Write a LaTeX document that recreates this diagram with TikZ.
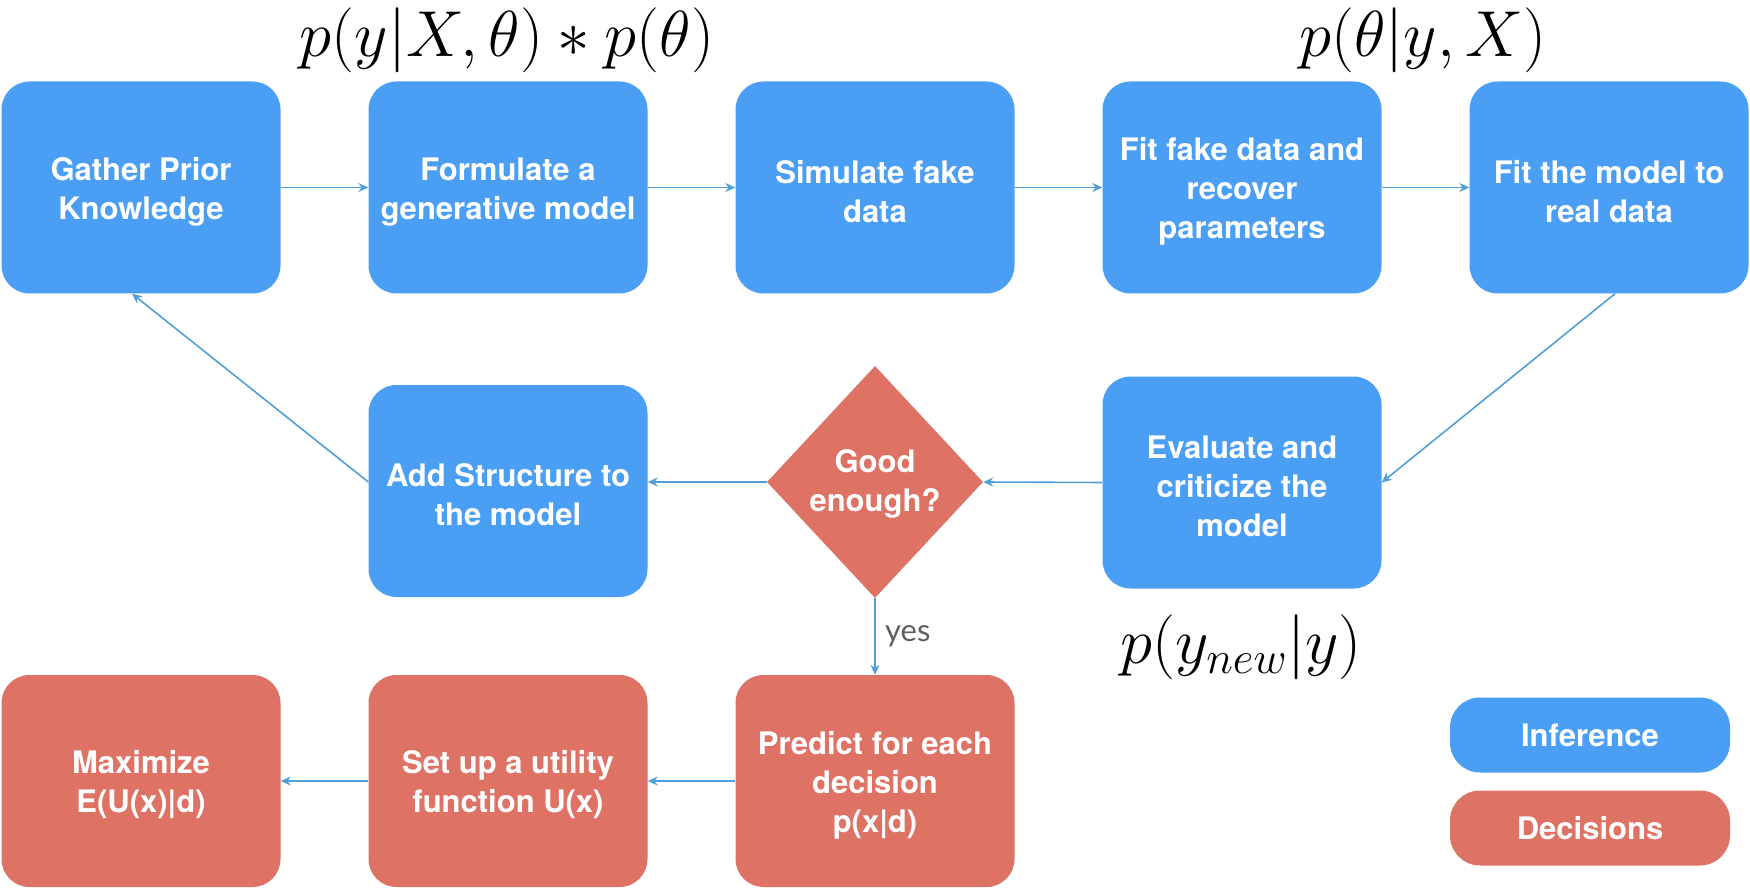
\RequirePackage{fix-cm}
\documentclass[tikz,border=0pt]{standalone}
\usepackage{fontspec}
\setsansfont{TeX Gyre Heros}
\newfontfamily\yesfont{Lato}
\usetikzlibrary{shapes.geometric,arrows.meta}
\definecolor{infblue}{RGB}{74,159,245}
\definecolor{decred}{RGB}{222,114,101}
\definecolor{linkblue}{RGB}{80,160,215}
\definecolor{labelgray}{RGB}{95,95,95}
% taller first line, so the label block sits a little lower in its box
\newcommand\firstline{\rule{0pt}{31pt}}

\begin{document}
\begin{tikzpicture}[x=1pt,y=-1pt,
  card/.style={rounded corners=28pt, minimum width=279pt, minimum height=212pt,
    inner sep=0pt, align=center, text=white,
    font=\sffamily\bfseries\fontsize{31}{39}\selectfont},
  inf/.style={card, fill=infblue},
  dec/.style={card, fill=decred},
  pill/.style={rounded corners=30pt, minimum width=280pt, minimum height=75pt,
    inner sep=0pt, text=white, font=\sffamily\bfseries\fontsize{31}{38}\selectfont},
  decide/.style={diamond, fill=decred, minimum width=216pt, minimum height=232pt,
    inner sep=0pt, align=center, text=white,
    font=\sffamily\bfseries\fontsize{31}{39}\selectfont},
  link/.style={draw=linkblue, line width=1.6pt, -{Stealth[length=10pt,width=9pt]}},
  formula/.style={inner sep=0pt, font=\fontsize{65}{70}\selectfont},
]
\useasboundingbox (0,0) rectangle (1750,890);

% top row: inference steps
\node[inf] (b1) at (141,187.5) {\firstline Gather Prior\\Knowledge};
\node[inf] (b2) at (508,187.5) {\firstline Formulate a\\generative model};
\node[inf] (b3) at (875,187.5) {\firstline Simulate fake\\data};
\node[inf] (b4) at (1242,187.5) {\firstline Fit fake data and\\recover\\parameters};
\node[inf] (b5) at (1609,187.5) {\firstline Fit the model to\\real data};

% middle row
\node[inf] (ev) at (1242,482.5) {\firstline Evaluate and\\criticize the\\model};
\node[decide] (dia) at (875,482) {\rule{0pt}{27pt}Good\\enough?};
\node[inf] (add) at (508,491) {\firstline Add Structure to\\the model};

% bottom row: decision steps
\node[dec] (pr) at (875,781) {\firstline Predict for each\\decision\\p(x|d)};
\node[dec] (su) at (508,781) {\firstline Set up a utility\\function U(x)};
\node[dec] (mx) at (141,781) {\firstline Maximize\\E(U(x)|d)};

% legend
\node[pill, fill=infblue] (lgi) at (1590,735) {Inference};
\node[pill, fill=decred] (lgd) at (1590,828) {Decisions};

% formulas
\node[formula] (fprior) at (507,40) {$p(y|X,\theta) * p(\theta)$};
\node[formula] (fpost) at (1423,40) {$p(\theta|y,X)$};
\node[formula] (fpred) at (1241,647) {$p(y_{new}|y)$};

% connectors
\draw[link] (b1.east) -- (b2.west);
\draw[link] (b2.east) -- (b3.west);
\draw[link] (b3.east) -- (b4.west);
\draw[link] (b4.east) -- (b5.west);
\draw[link] ([xshift=6pt]b5.south) -- (ev.east);
\draw[link] (ev.west) -- (dia.east);
\draw[link] (dia.west) -- (dia.west -| add.east);
\draw[link] ([yshift=9pt]add.west) -- ([xshift=-9pt]b1.south);
\draw[link] (dia.south) -- (pr.north)
  node[midway, right=6pt, text=labelgray, font=\yesfont\fontsize{31}{36}\selectfont] (yes) {yes};
\draw[link] (pr.west) -- (su.east);
\draw[link] (su.west) -- (mx.east);
\end{tikzpicture}
\end{document}
